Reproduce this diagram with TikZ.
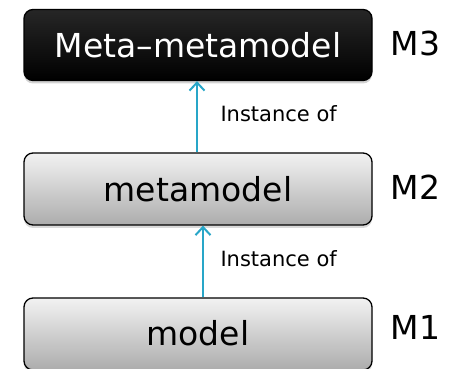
\documentclass[tikz,border=0pt]{standalone}
\usepackage{fontspec}
\setmainfont{DejaVu Sans}
\usetikzlibrary{arrows.meta,shadows}
\definecolor{arrowc}{RGB}{40,166,200}
\tikzset{
  px/.style={x=1pt,y=1pt},
  bigtext/.style={font=\fontsize{33}{36}\selectfont},
  graybox/.style={draw=black, line width=1.3pt, rounded corners=9pt, minimum width=348pt, minimum height=72pt,
    top color=gray!10, bottom color=gray!65, drop shadow={shadow xshift=0pt, shadow yshift=-3pt, opacity=0.3}, bigtext},
  blackbox/.style={draw=black, line width=1.3pt, rounded corners=9pt, minimum width=348pt, minimum height=71pt,
    top color=black!85, bottom color=black, text=white, drop shadow={shadow xshift=0pt, shadow yshift=-3pt, opacity=0.35}, bigtext},
  lvl/.style={bigtext, anchor=west},
  inst/.style={font=\fontsize{21}{24}\selectfont, anchor=west},
  conn/.style={draw=arrowc, line width=2pt, -{Straight Barb[length=8pt,width=15pt,line width=2pt]}}
}
\begin{document}
\begin{tikzpicture}[px]
\useasboundingbox (0,0) rectangle (455,369);
\node[blackbox] (m3) at (198,324) {Meta–metamodel};
\node[graybox] (m2) at (198,180) {metamodel};
\node[graybox] (m1) at (198,35) {\raisebox{3pt}{model}};
\node[lvl] (l3) at (387,326) {M3};
\node[lvl] (l2) at (387,182) {M2};
\node[lvl] (l1) at (387,42) {M1};
\draw[conn] (m2.north -| 197,0) -- (m3.south -| 197,0);
\draw[conn] (m1.north -| 203,0) -- (m2.south -| 203,0);
\node[inst] (i1) at (217,255) {Instance of};
\node[inst] (i2) at (217,110) {Instance of};
\end{tikzpicture}
\end{document}
